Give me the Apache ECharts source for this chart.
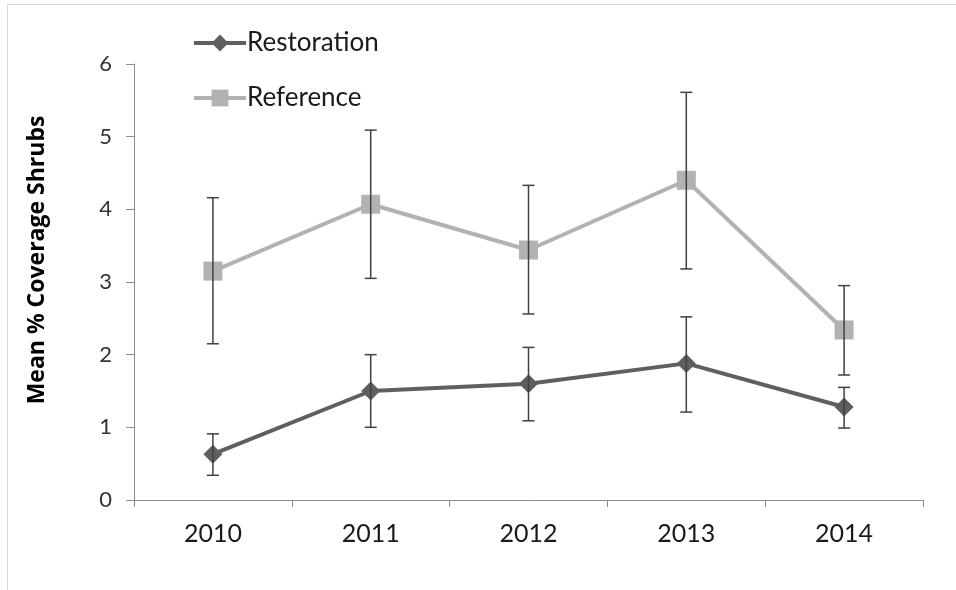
<!DOCTYPE html>
<html>
<head>
<meta charset="utf-8">
<script src="https://cdn.jsdelivr.net/npm/echarts@6/dist/echarts.min.js"></script>
<style>
  html, body { margin: 0; padding: 0; background: #fff; }
  #chart { width: 956px; height: 590px; }
</style>
</head>
<body>
<div id="chart"></div>
<script>
// Survey years and mean shrub coverage (%), with error-bar bounds
var years = ['2010', '2011', '2012', '2013', '2014'];

var restorationMean = [0.63, 1.50, 1.60, 1.88, 1.28];
var restorationLow  = [0.34, 1.00, 1.09, 1.21, 0.99];
var restorationHigh = [0.91, 2.00, 2.10, 2.52, 1.55];

var referenceMean = [3.15, 4.07, 3.44, 4.40, 2.34];
var referenceLow  = [2.15, 3.05, 2.56, 3.18, 1.72];
var referenceHigh = [4.16, 5.09, 4.33, 5.61, 2.95];

var yTicks = [0, 1, 2, 3, 4, 5, 6];

var FONT = 'Lato';
var TEXT = '#1a1a1a';
var DARK = '#5f5f5f';
var LIGHT = '#b2b2b2';

function errorData(low, high) {
  return years.map(function (y, i) { return [i, low[i], high[i]]; });
}

// Vertical whisker with horizontal caps
function renderError(params, api) {
  var x = api.value(0);
  var lo = api.coord([x, api.value(1)]);
  var hi = api.coord([x, api.value(2)]);
  var cap = 6;
  var style = { stroke: '#404040', lineWidth: 1.5 };
  return {
    type: 'group',
    children: [
      { type: 'line', shape: { x1: hi[0], y1: hi[1], x2: lo[0], y2: lo[1] }, style: style },
      { type: 'line', shape: { x1: hi[0] - cap, y1: hi[1], x2: hi[0] + cap, y2: hi[1] }, style: style },
      { type: 'line', shape: { x1: lo[0] - cap, y1: lo[1], x2: lo[0] + cap, y2: lo[1] }, style: style }
    ]
  };
}

function legendFor(name, color, top) {
  return {
    orient: 'vertical',
    left: 187,
    top: top,
    itemWidth: 52,
    itemHeight: 21,
    itemGap: 0,
    data: [{ name: name, lineStyle: { width: 4, color: color }, itemStyle: { color: color } }],
    textStyle: { fontFamily: FONT, fontSize: 26, lineHeight: 30, color: TEXT, padding: [0, 0, 0, -4] }
  };
}

var chart = echarts.init(document.getElementById('chart'), null, { renderer: 'canvas' });

chart.setOption({
  animation: false,
  backgroundColor: '#fff',
  textStyle: { fontFamily: FONT },
  grid: { left: 134, right: 33, top: 64, bottom: 90, containLabel: false },
  legend: [legendFor('Restoration', DARK, 23), legendFor('Reference', LIGHT, 78)],
  xAxis: {
    type: 'category',
    data: years,
    boundaryGap: true,
    axisLine: { lineStyle: { color: '#8c8c8c', width: 1 } },
    axisTick: { show: true, length: 7, interval: 0, lineStyle: { color: '#8c8c8c' } },
    axisLabel: { fontFamily: FONT, fontSize: 25, color: TEXT, margin: 21 },
    splitLine: { show: false }
  },
  yAxis: {
    type: 'value',
    min: yTicks[0],
    max: yTicks[yTicks.length - 1],
    interval: 1,
    axisLine: { show: true, lineStyle: { color: '#8c8c8c', width: 1 } },
    axisTick: { show: true, length: 8, lineStyle: { color: '#8c8c8c' } },
    axisLabel: { fontFamily: FONT, fontSize: 22, color: '#333', margin: 22 },
    splitLine: { show: false }
  },
  graphic: [
    { type: 'line', shape: { x1: 7, y1: 4.5, x2: 956, y2: 4.5 }, style: { stroke: '#d9d9d9', lineWidth: 1 } },
    { type: 'line', shape: { x1: 7.5, y1: 4, x2: 7.5, y2: 590 }, style: { stroke: '#d9d9d9', lineWidth: 1 } },
    {
      type: 'text',
      x: 37, y: 260,
      rotation: Math.PI / 2,
      style: {
        text: 'Mean % Coverage Shrubs',
        fontFamily: 'Open Sans', fontSize: 23, fontWeight: 'bold', fill: '#000',
        align: 'center', verticalAlign: 'middle'
      }
    }
  ],
  series: [
    {
      name: 'Restoration',
      type: 'line',
      data: restorationMean,
      symbol: 'diamond',
      symbolSize: 19,
      itemStyle: { color: DARK },
      lineStyle: { color: DARK, width: 4 },
      z: 3
    },
    {
      name: 'Reference',
      type: 'line',
      data: referenceMean,
      symbol: 'rect',
      symbolSize: 19,
      itemStyle: { color: LIGHT },
      lineStyle: { color: LIGHT, width: 4 },
      z: 3
    },
    {
      type: 'custom',
      renderItem: renderError,
      data: errorData(restorationLow, restorationHigh),
      encode: { x: 0, y: [1, 2] },
      z: 4,
      silent: true
    },
    {
      type: 'custom',
      renderItem: renderError,
      data: errorData(referenceLow, referenceHigh),
      encode: { x: 0, y: [1, 2] },
      z: 4,
      silent: true
    }
  ]
});
</script>
</body>
</html>
